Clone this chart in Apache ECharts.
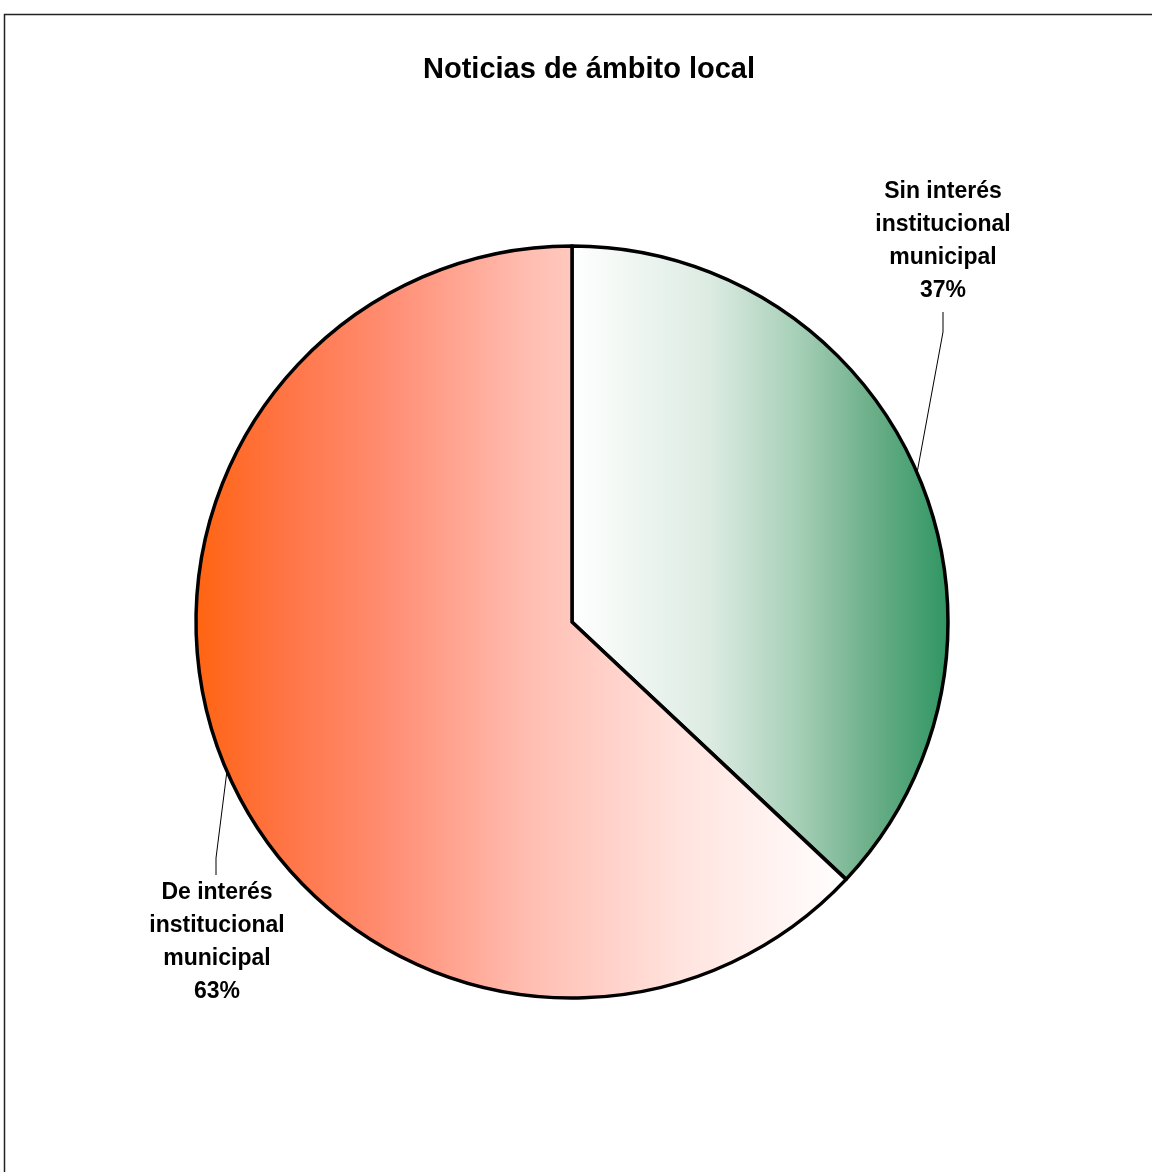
<!DOCTYPE html>
<html>
<head>
<meta charset="utf-8">
<script src="https://cdn.jsdelivr.net/npm/echarts@6/dist/echarts.min.js"></script>
<style>
  html, body { margin: 0; padding: 0; background: #fff; }
  #chart { width: 1152px; height: 1172px; }
</style>
</head>
<body>
<div id="chart"></div>
<script>
// Share of local news by municipal institutional interest
const categories = ['Sin interés\ninstitucional\nmunicipal', 'De interés\ninstitucional\nmunicipal'];
const values = [37, 63];

const sliceFills = [
  // white to sea green, left to right
  new echarts.graphic.LinearGradient(0, 0, 1, 0, [
    { offset: 0, color: '#ffffff' },
    { offset: 0.37, color: '#dcebe2' },
    { offset: 0.6, color: '#a6cfb7' },
    { offset: 0.8, color: '#6aae88' },
    { offset: 1, color: '#2f9562' }
  ]),
  // orange through salmon to white, left to right
  new echarts.graphic.LinearGradient(0, 0, 1, 0, [
    { offset: 0, color: '#ff6410' },
    { offset: 0.12, color: '#ff7240' },
    { offset: 0.3, color: '#ff8e74' },
    { offset: 0.51, color: '#ffbdb1' },
    { offset: 0.75, color: '#ffe4df' },
    { offset: 1, color: '#ffffff' }
  ])
];

const chart = echarts.init(document.getElementById('chart'), null, { renderer: 'canvas' });

// Label anchor (text centre x, top y) and leader-line elbow for each slice
const labelSpots = [
  { x: 943, y: 175, elbow: [943, 332], end: [943, 312] },
  { x: 217, y: 876, elbow: [216, 858], end: [216, 875] }
];

chart.setOption({
  animation: false,
  backgroundColor: '#ffffff',
  title: {
    text: 'Noticias de ámbito local',
    left: 584,
    textAlign: 'center',
    top: 50,
    textStyle: {
      fontFamily: 'Liberation Sans, Arial, sans-serif',
      fontWeight: 'bold',
      fontSize: 29,
      color: '#000'
    }
  },
  graphic: [{
    type: 'rect',
    shape: { x: 4.5, y: 14.5, width: 1200, height: 1200 },
    style: { fill: 'none', stroke: '#222', lineWidth: 1.5 },
    silent: true,
    z: -1
  }],
  series: [{
    type: 'pie',
    center: [572, 622],
    radius: 376,
    startAngle: 90,
    clockwise: true,
    data: categories.map((name, i) => ({
      name: name,
      value: values[i],
      itemStyle: { color: sliceFills[i] }
    })),
    itemStyle: {
      borderColor: '#000',
      borderWidth: 3.5
    },
    label: {
      show: true,
      position: 'outside',
      formatter: p => p.name + '\n' + p.value + '%',
      fontFamily: 'Liberation Sans, Arial, sans-serif',
      fontWeight: 'bold',
      fontSize: 23,
      lineHeight: 33,
      color: '#000',
      align: 'center'
    },
    labelLine: {
      show: true,
      length: 20,
      length2: 20,
      lineStyle: { color: '#000', width: 1 }
    },
    labelLayout: function (params) {
      const s = labelSpots[params.dataIndex];
      const start = params.labelLinePoints ? params.labelLinePoints[0] : s.elbow;
      return {
        x: s.x,
        y: s.y,
        align: 'center',
        verticalAlign: 'top',
        labelLinePoints: [start, s.elbow, s.end]
      };
    }
  }]
});
</script>
</body>
</html>
